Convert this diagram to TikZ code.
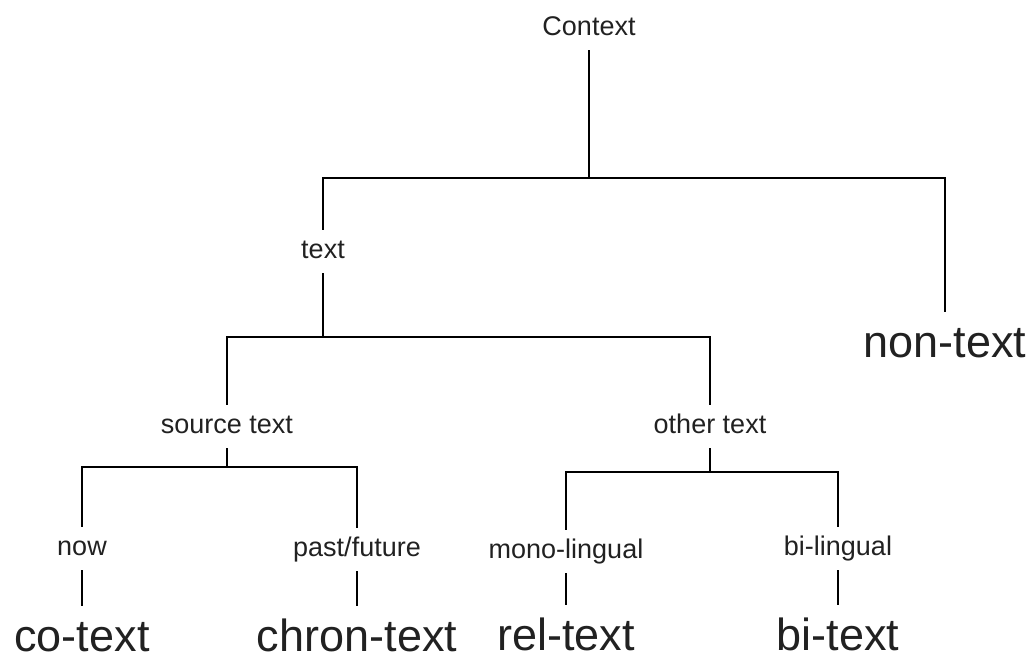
\documentclass[tikz,border=0pt]{standalone}
\usepackage{fontspec}
\setmainfont{Liberation Sans}
\usepackage{xcolor}
\usetikzlibrary{positioning, calc}
\definecolor{inkgray}{rgb}{0.13,0.13,0.13}

\begin{document}
\begin{tikzpicture}[
    x=0.5pt, y=-0.5pt,
    cat/.style={anchor=base, inner sep=4.5pt, text height=9.5pt, text depth=3pt, text=inkgray, font=\fontsize{13.5}{16}\selectfont},
    leafnode/.style={anchor=base, inner sep=4.5pt, text height=18pt, text depth=0pt, text=inkgray, font=\fontsize{22.5}{26}\selectfont},
    edge/.style={draw=black, line width=1pt}
]
\useasboundingbox (0,0) rectangle (1033,659);

% Nodes
\node[cat] (context) at (589,35) {Context};
\node[cat] (text) at (323,258) {text};
\node[leafnode] (nontext) at (945,357) {non-text};
\node[cat] (source) at (227,433) {source text};
\node[cat] (other) at (710,433) {other text};
\node[cat] (now) at (82,555) {now};
\node[cat] (past) at (357,556) {past/future};
\node[cat] (mono) at (566,558) {mono-lingual};
\node[cat] (bi) at (838,555) {bi-lingual};
\node[leafnode] (cotext) at (82,651) {co-text};
\node[leafnode] (chron) at (357,651) {chron-text};
\node[leafnode] (rel) at (566,650) {rel-text};
\node[leafnode] (bitext) at (838,650) {bi-text};

% Junctions
\coordinate (jc) at (589,178);
\coordinate (jt) at (323,337);
\coordinate (js) at (227,467);
\coordinate (jo) at (710,472);

% Edges
\draw[edge] (context) -- (jc) -| (text);
\draw[edge] (jc) -| (nontext);
\draw[edge] (text) -- (jt);
\draw[edge] (source) |- (jt) -| (other);
\draw[edge] (source) -- (js);
\draw[edge] (now) |- (js) -| (past);
\draw[edge] (other) -- (jo);
\draw[edge] (mono) |- (jo) -| (bi);
\draw[edge] (now) -- (cotext);
\draw[edge] (past) -- (chron);
\draw[edge] (mono) -- (rel);
\draw[edge] (bi) -- (bitext);

\end{tikzpicture}
\end{document}
